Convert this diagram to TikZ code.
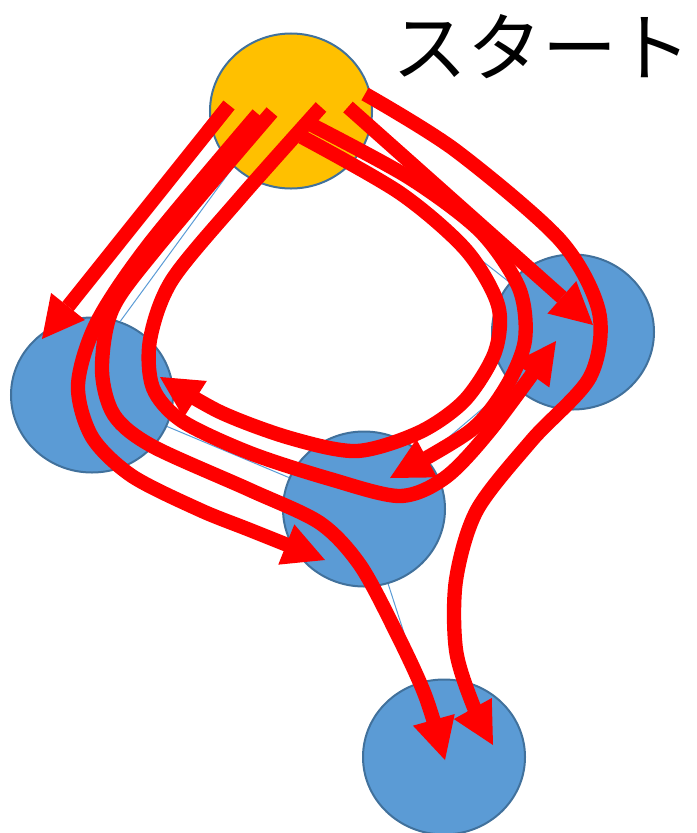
\documentclass[tikz,border=0pt]{standalone}
\usepackage{fontspec}
\newfontfamily\jpfont{Noto Sans CJK JP}
\usetikzlibrary{arrows.meta,shapes.geometric}
\definecolor{stopblue}{HTML}{5B9BD5}
\definecolor{stopedge}{HTML}{41719C}
\definecolor{startgold}{HTML}{FFC000}

\begin{document}
\begin{tikzpicture}[x=0.03cm,y=-0.03cm,line join=round,
  stop/.style={ellipse,draw=stopedge,line width=0.6mm,fill=stopblue,
    minimum width=4.86cm,minimum height=4.65cm,inner sep=0pt},
  link/.style={stopblue,line width=0.3mm},
  route/.style={red,line width=4.3mm,
    -{Triangle[length=12.5mm,width=13mm,line width=0pt]}}]
  \useasboundingbox (0,0) rectangle (697,833);
  % start and the four stops
  \node[stop,fill=startgold] (S) at (291,111) {};
  \node[stop] (L) at (92,395) {};
  \node[stop] (R) at (573,332) {};
  \node[stop] (M) at (364,509) {};
  \node[stop] (B) at (444,757) {};
  \draw[link] (S.224)--(L.69) (S)--(R) (L)--(M) (R)--(M) (M)--(B);
  \node[font=\jpfont\fontsize{64}{70}\selectfont] (title) at (542,47) {スタート};
  % routes
  \draw[route] (229,105)--(42,339);
  \draw[route] (348,107)--(593,325);
  \draw[route] plot[smooth] coordinates {(258,114) (150,243) (97,322)
    (78,385) (92,437) (132,476) (200,510) (250,530) (325,560)};
  \draw[route] plot[smooth] coordinates {(272,112) (155,250) (112,310)
    (102,370) (114,415) (152,446) (250,490) (320,523) (360,565) (395,630)
    (425,695) (445,760)};
  \draw[route] plot[smooth] coordinates {(321,107) (240,198) (172,280)
    (150,340) (153,388) (182,421) (250,453) (330,479) (400,496) (446,477)
    (492,428) (556,341)};
  \draw[route] plot[smooth] coordinates {(302,137) (400,193) (466,250)
    (498,305) (495,352) (465,400) (420,432) (357,451) (290,438) (220,412)
    (160,377)};
  \draw[route] plot[smooth] coordinates {(308,123) (408,177) (480,231)
    (519,288) (525,340) (506,387) (470,431) (390,478)};
  \draw[route] plot[smooth] coordinates {(365,94) (455,150) (560,240)
    (599,312) (590,377) (532,440) (477,510) (456,580) (456,650) (473,705)
    (493,745)};
\end{tikzpicture}
\end{document}
